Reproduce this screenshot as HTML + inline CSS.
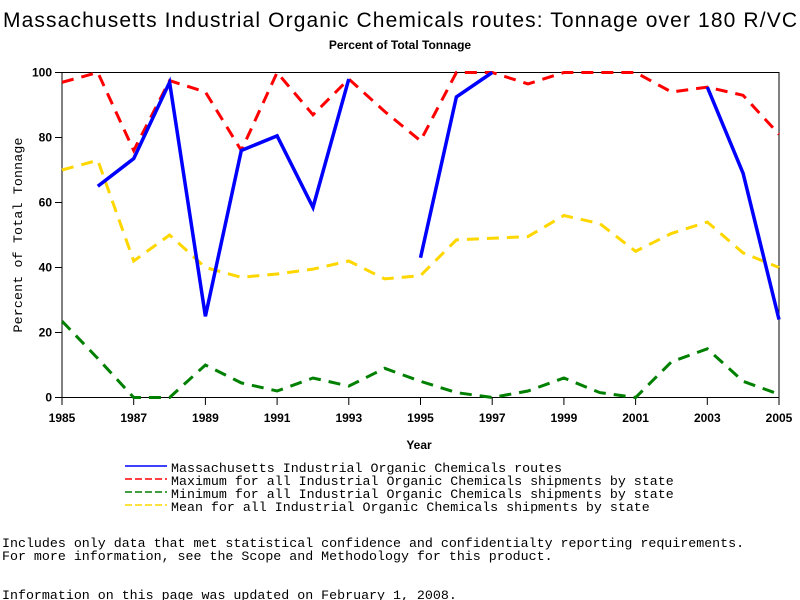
<!DOCTYPE html>
<html><head><meta charset="utf-8"><style>
body{margin:0;background:#fff;}
svg{display:block;font-family:"Liberation Sans",sans-serif;}
.mono{font-family:"Liberation Mono",monospace;font-size:13.3px;}
</style></head><body>
<svg id="chart" width="800" height="600">
<text x="400" y="27" text-anchor="middle" font-size="21" textLength="794">Massachusetts Industrial Organic Chemicals routes: Tonnage over 180 R/VC</text>
<text x="400" y="49" text-anchor="middle" font-size="12" font-weight="bold">Percent of Total Tonnage</text>
<rect x="62" y="72.5" width="717" height="325" fill="none" stroke="#000" stroke-width="1"/>
<g id="axes"></g>
<g id="series"></g>
<text x="419" y="449" text-anchor="middle" font-size="12" font-weight="bold">Year</text>
<text transform="translate(22,235) rotate(-90)" text-anchor="middle" class="mono" font-size="12" textLength="195">Percent of Total Tonnage</text>
<g>
<line x1="125" y1="466" x2="167" y2="466" stroke="#0000ff" stroke-width="1.5"/>
<text x="171" y="472" class="mono">Massachusetts Industrial Organic Chemicals routes</text>
<line x1="125" y1="479" x2="167" y2="479" stroke="#ff0000" stroke-width="1.5" stroke-dasharray="7,3"/>
<text x="171" y="485" class="mono">Maximum for all Industrial Organic Chemicals shipments by state</text>
<line x1="125" y1="492" x2="167" y2="492" stroke="#008000" stroke-width="1.5" stroke-dasharray="7,3"/>
<text x="171" y="498" class="mono">Minimum for all Industrial Organic Chemicals shipments by state</text>
<line x1="125" y1="505" x2="167" y2="505" stroke="#ffd700" stroke-width="1.5" stroke-dasharray="7,3"/>
<text x="171" y="511" class="mono">Mean for all Industrial Organic Chemicals shipments by state</text>
</g>
<text x="2" y="547" class="mono">Includes only data that met statistical confidence and confidentialty reporting requirements.</text>
<text x="2" y="560" class="mono">For more information, see the Scope and Methodology for this product.</text>
<text x="2" y="599" class="mono">Information on this page was updated on February 1, 2008.</text>
</svg>
<script>
const years=[1985,1986,1987,1988,1989,1990,1991,1992,1993,1994,1995,1996,1997,1998,1999,2000,2001,2002,2003,2004,2005];
const maSeries=[null,65,73.5,97,25,76,80.5,58.5,98,null,43,92.5,100,null,null,null,null,null,95.5,69,24];
const maxSeries=[97,100,76,97.5,94,76,100,87,98,88,79,100,100,96.5,100,100,100,94,95.5,93,81];
const meanSeries=[70,73,42,50,40,37,38,39.5,42,36.5,37.5,48.5,49,49.5,56,53.5,45,50.5,54,44.5,40];
const minSeries=[23.5,12,0,0,10,4.5,2,6,3.5,9,5,1.5,0,2,6,1.5,0,11,15,5,1];
const xTicks=[1985,1987,1989,1991,1993,1995,1997,1999,2001,2003,2005];
const yTicks=[0,20,40,60,80,100];
const NS="http://www.w3.org/2000/svg";
const x=v=>62+(v-1985)*(717/20);
const y=v=>397.5-v*3.25;
const axes=document.getElementById('axes');
function mk(tag,attrs,parent){const e=document.createElementNS(NS,tag);for(const k in attrs)e.setAttribute(k,attrs[k]);parent.appendChild(e);return e;}
xTicks.forEach(t=>{
  const l=mk('line',{x1:x(t),x2:x(t),y1:397.5,y2:405,stroke:'#000'},axes);
  
  
  const tx=mk('text',{x:x(t),y:422,'text-anchor':'middle','font-size':12,'font-weight':'bold'},axes);
  tx.textContent=t;
  
  
});
yTicks.forEach(t=>{
  const l=mk('line',{x1:55,x2:62,y1:y(t),y2:y(t),stroke:'#000'},axes);
  
  
  const tx=mk('text',{x:52,y:y(t)+4,'text-anchor':'end','font-size':12,'font-weight':'bold'},axes);
  tx.textContent=t;
  
  
});
const g=document.getElementById('series');
function draw(data,color,w,dash,name){
  let d='',pen=false;
  data.forEach((v,i)=>{if(v===null){pen=false;return;}d+=(pen?'L':'M')+x(years[i]).toFixed(1)+','+y(v).toFixed(1);pen=true;});
  const p=mk('path',{d:d,fill:'none',stroke:color,'stroke-width':w,'stroke-linejoin':'miter'},g);
  if(dash)p.setAttribute('stroke-dasharray',dash);
  
  
}
draw(minSeries,'#008000',3,'12,8','series-min');
draw(meanSeries,'#ffd700',3,'12,8','series-mean');
draw(maxSeries,'#ff0000',3,'12,8','series-max');
draw(maSeries,'#0000ff',3.5,null,'series-massachusetts');
</script>
</body></html>
